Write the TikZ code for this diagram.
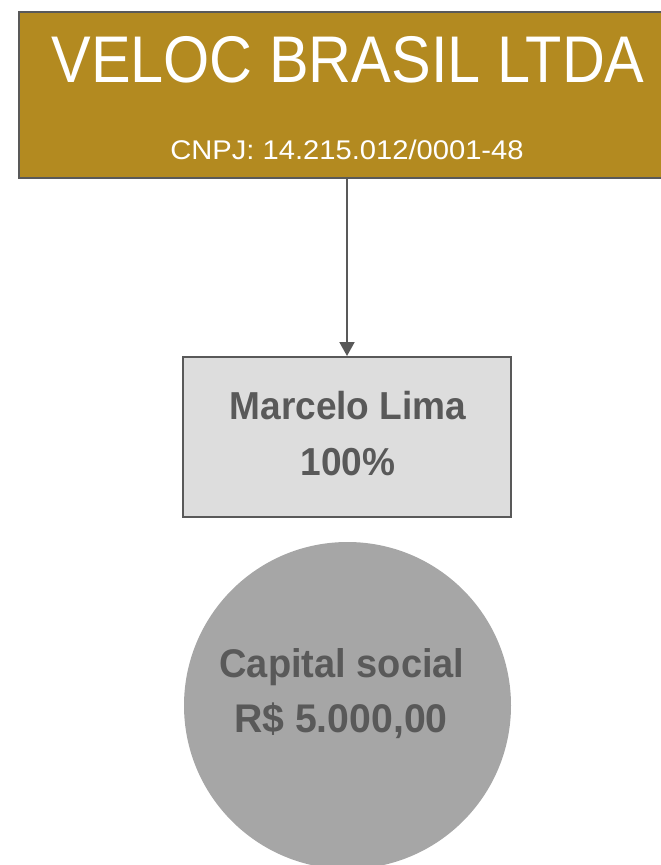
\documentclass[tikz,border=0pt]{standalone}
\usepackage{fontspec}
\setmainfont{Liberation Sans}
\newfontfamily\titlefont[FakeStretch=0.9]{Liberation Sans}
\newfontfamily\cnpjfont[FakeStretch=1.08]{Liberation Sans}
\newfontfamily\boldfont[FakeStretch=0.95]{Liberation Sans Bold}
\newfontfamily\capfont[FakeStretch=0.98]{Liberation Sans Bold}
\usetikzlibrary{arrows.meta}
\definecolor{gold}{HTML}{B38A20}
\definecolor{edgegray}{HTML}{595959}
\definecolor{boxfill}{HTML}{DDDDDD}
\definecolor{circfill}{HTML}{A6A6A6}
\definecolor{textgray}{HTML}{595959}
\tikzset{
  company/.style={draw=edgegray, line width=2pt, fill=gold, inner sep=0pt, anchor=north west},
  ownerbox/.style={draw=edgegray, line width=2pt, fill=boxfill, inner sep=0pt, minimum width=328pt, minimum height=160pt},
  capcircle/.style={circle, fill=circfill, inner sep=0pt, minimum size=327pt},
  whitetext/.style={text=white, inner sep=0pt, anchor=base},
  graytext/.style={text=textgray, inner sep=0pt, anchor=base, font=\boldfont\fontsize{39}{44}\selectfont},
  conn/.style={draw=edgegray, line width=2pt, -{Triangle[length=14pt,width=15pt]}}
}
\begin{document}
\begin{tikzpicture}[x=1pt,y=1pt]
\useasboundingbox (0,0) rectangle (661,-865);
\clip (0,0) rectangle (661,-865);
\node[company, minimum width=660pt, minimum height=166pt] (top) at (17.5,-11) {};
\node[whitetext, font=\titlefont\fontsize{66}{70}\selectfont] (title) at (348,-82) {VELOC BRASIL LTDA};
\node[whitetext, font=\cnpjfont\fontsize{27}{30}\selectfont] (cnpj) at (347,-159) {CNPJ: 14.215.012/0001-48};
\node[ownerbox] (owner) at (347,-437) {};
\node[graytext] (name) at (348,-419) {Marcelo Lima};
\node[graytext] (pct) at (348,-475) {100\%};
\node[capcircle] (cap) at (347.5,-705.5) {};
\node[graytext, font=\boldfont\fontsize{40}{44}\selectfont] (capl) at (342,-677) {Capital social};
\node[graytext, font=\capfont\fontsize{40}{44}\selectfont] (capv) at (341,-732) {R\$ 5.000,00};
\draw[conn] (top.south -| owner.north) -- (owner.north);
\end{tikzpicture}
\end{document}
